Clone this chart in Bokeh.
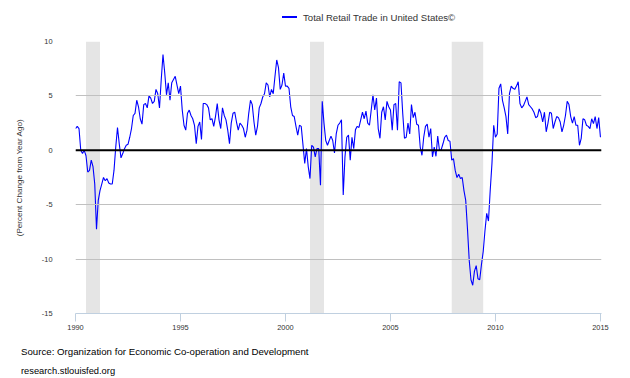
from bokeh.plotting import figure
from bokeh.models import FixedTicker, Span, Div
from bokeh.layouts import column
from bokeh.embed import file_html
from bokeh.resources import INLINE

start_year = 1990
series_name = "Total Retail Trade in United States\u00a9"
y_title = "(Percent Change from Year Ago)"
source_text = "Source: Organization for Economic Co-operation and Development"
site_text = "research.stlouisfed.org"

# monthly percent change from year ago, Jan 1990 .. Jan 2015
v1990 = [2.0, 2.2, 2.0, 0.0, -0.3, 0.0, -0.5, -2.0, -1.85, -0.9, -1.5, -3.1]
v1991 = [-7.25, -4.6, -3.7, -3.1, -2.5, -2.8, -2.6, -3.0, -3.1, -3.1, -1.85, 0.3]
v1992 = [2.1, 0.6, -0.7, -0.3, 0.15, 0.46, 0.55, 1.2, 2.0, 3.2, 3.4, 4.6]
v1993 = [4.0, 2.9, 2.4, 4.2, 4.3, 3.9, 5.0, 4.8, 4.3, 4.5, 5.6, 5.2]
v1994 = [3.9, 6.5, 8.8, 7.1, 5.1, 6.2, 4.6, 6.2, 6.5, 6.8, 6.0, 5.2]
v1995 = [5.9, 3.7, 2.3, 1.85, 3.4, 3.7, 3.2, 2.9, 2.3, 0.6, 2.2, 2.6]
v1996 = [1.0, 4.3, 4.3, 4.2, 3.9, 2.8, 2.9, 2.2, 3.1, 4.3, 2.8, 2.0]
v1997 = [3.9, 3.2, 2.8, 1.85, 0.6, 2.5, 3.4, 3.5, 2.6, 1.85, 2.5, 2.3]
v1998 = [2.0, 1.2, 1.85, 3.4, 4.6, 4.2, 2.6, 1.4, 2.2, 3.9, 4.3, 4.9]
v1999 = [5.2, 6.2, 6.0, 4.9, 5.6, 5.2, 6.8, 8.3, 7.6, 5.6, 6.0, 7.1]
v2000 = [5.9, 5.9, 5.7, 4.0, 3.2, 3.1, 2.2, 1.4, 2.3, 2.2, 0.5, -1.2]
v2001 = [0.15, -1.5, -2.6, 0.46, 0.3, -0.6, 0.15, 0.15, -3.2, 4.5, 2.5, 0.9]
v2002 = [0.46, 0.9, 1.3, 0.9, -0.25, 1.5, 2.3, 2.5, 2.8, -4.1, -0.6, 1.2]
v2003 = [1.4, -0.9, 1.2, 0.15, 1.9, 2.2, 2.1, 2.8, 3.5, 2.9, 3.6, 2.5]
v2004 = [2.3, 3.7, 5.1, 3.7, 4.8, 2.0, 1.1, 3.5, 4.0, 2.8, 4.5, 4.0]
v2005 = [3.7, 1.85, 4.2, 4.3, 1.85, 6.3, 6.2, 3.4, 1.1, 1.2, 2.5, 1.5]
v2006 = [4.2, 3.0, 3.5, 2.4, 2.3, 0.3, -0.46, 1.2, 2.2, 2.4, 1.2, 2.0]
v2007 = [-0.6, 0.3, -0.55, 1.3, 0.0, 0.06, 0.6, 1.2, 1.4, 0.9, 0.83, -0.9]
v2008 = [-0.77, -1.85, -2.5, -2.2, -2.6, -2.5, -3.7, -4.6, -7.2, -10.1, -11.9, -12.4]
v2009 = [-11.1, -10.6, -11.8, -11.9, -10.5, -9.3, -7.4, -5.8, -6.5, -3.7, -1.2, 2.3]
v2010 = [1.2, 1.5, 5.7, 6.1, 4.6, 3.9, 3.1, 1.5, 5.2, 5.9, 5.7, 5.6]
v2011 = [5.9, 6.3, 4.3, 3.9, 4.1, 4.5, 4.9, 4.2, 4.0, 3.8, 3.5, 3.0]
v2012 = [3.1, 3.8, 3.4, 2.6, 3.5, 1.7, 2.5, 3.5, 3.4, 2.0, 2.6, 3.1]
v2013 = [3.0, 2.6, 1.7, 2.3, 3.2, 4.5, 4.2, 3.1, 2.5, 3.1, 2.3, 2.3]
v2014 = [0.46, 1.1, 2.9, 2.8, 2.3, 2.2, 2.0, 2.9, 2.45, 3.1, 2.0, 3.0]
v2015 = [1.2]

values = (v1990 + v1991 + v1992 + v1993 + v1994 + v1995 + v1996 + v1997 + v1998
          + v1999 + v2000 + v2001 + v2002 + v2003 + v2004 + v2005 + v2006 + v2007
          + v2008 + v2009 + v2010 + v2011 + v2012 + v2013 + v2014 + v2015)
dates = [start_year + i / 12.0 for i in range(len(values))]

recession_start = [1990.5, 2001.167, 2007.917]
recession_end = [1991.167, 2001.833, 2009.417]

x_ticks = [1990, 1995, 2000, 2005, 2010, 2015]
y_ticks = [-15, -10, -5, 0, 5, 10]
y_tick_labels = ["-15", "-10", "-5", "0", "5", "10"]

FONT = "Liberation Sans"
W = 628

p = figure(width=W, height=306, x_range=(1990, 2015.05), y_range=(-15, 10),
           output_backend="svg", toolbar_location=None,
           min_border_left=75, min_border_right=27, min_border_top=10, min_border_bottom=24)
p.outline_line_color = None
p.background_fill_color = "white"
p.border_fill_color = "white"

# recession bands
p.quad(left=recession_start, right=recession_end, bottom=-15, top=10,
       fill_color="#e5e5e5", line_color=None, level="underlay")

p.xgrid.visible = False
p.ygrid.ticker = FixedTicker(ticks=y_ticks)
p.ygrid.grid_line_color = "#c0c0c0"
p.ygrid.level = "glyph"

zero = Span(location=0, dimension="width", line_color="black", line_width=2)
p.add_layout(zero)

r = p.line(dates, values, line_color="#0000ff", line_width=1.1)

# axes
xa = p.xaxis[0]
xa.ticker = FixedTicker(ticks=x_ticks)
xa.major_label_overrides = {t: str(t) for t in x_ticks}
xa.axis_line_color = "#c0d0e0"
xa.major_tick_line_color = "#c0d0e0"
xa.major_tick_out = 8
xa.major_tick_in = 0
xa.minor_tick_line_color = None
xa.major_label_standoff = 3
xa.major_label_text_font = FONT
xa.major_label_text_font_size = "7.4px"
xa.major_label_text_color = "#333333"

ya = p.yaxis[0]
ya.ticker = FixedTicker(ticks=y_ticks)
ya.major_label_overrides = {t: s for t, s in zip(y_ticks, y_tick_labels)}
ya.axis_line_color = None
ya.major_tick_line_color = None
ya.minor_tick_line_color = None
ya.major_tick_out = 0
ya.major_tick_in = 0
ya.major_label_standoff = 23
ya.major_label_text_font = FONT
ya.major_label_text_font_size = "7.4px"
ya.major_label_text_color = "#333333"
ya.axis_label = y_title
ya.axis_label_text_font = FONT
ya.axis_label_text_font_size = "8.1px"
ya.axis_label_text_font_style = "normal"
ya.axis_label_text_color = "#333333"
ya.axis_label_standoff = 15

top_html = (
    '<div style="position:relative;width:%dpx;height:31px;margin:0;padding:0;">' % W
    + '<div style="position:absolute;left:282px;top:16px;width:15px;height:2px;'
      'background:#0000ff;"></div>'
    + '<div style="position:absolute;left:303px;top:10.5px;height:13px;line-height:13px;'
      'font-family:\'Liberation Sans\';font-size:9.6px;color:#333333;white-space:nowrap;">'
    + series_name + '</div></div>'
)
bottom_html = (
    '<div style="position:relative;width:%dpx;height:39px;margin:0;padding:0;">' % W
    + '<div style="position:absolute;left:21px;top:7.5px;height:14px;line-height:14px;'
      'font-family:\'Liberation Sans\';font-size:9.7px;color:#000000;white-space:nowrap;">'
    + source_text + '</div>'
    + '<div style="position:absolute;left:21px;top:27.5px;height:12px;line-height:12px;'
      'font-family:\'Liberation Sans\';font-size:9.3px;color:#000000;white-space:nowrap;">'
    + site_text + '</div></div>'
)

top_div = Div(text=top_html, width=W, height=31, margin=0)
bottom_div = Div(text=bottom_html, width=W, height=39, margin=0)

layout = column(top_div, p, bottom_div, spacing=0)

open("out.html", "w").write(file_html(layout, INLINE))
